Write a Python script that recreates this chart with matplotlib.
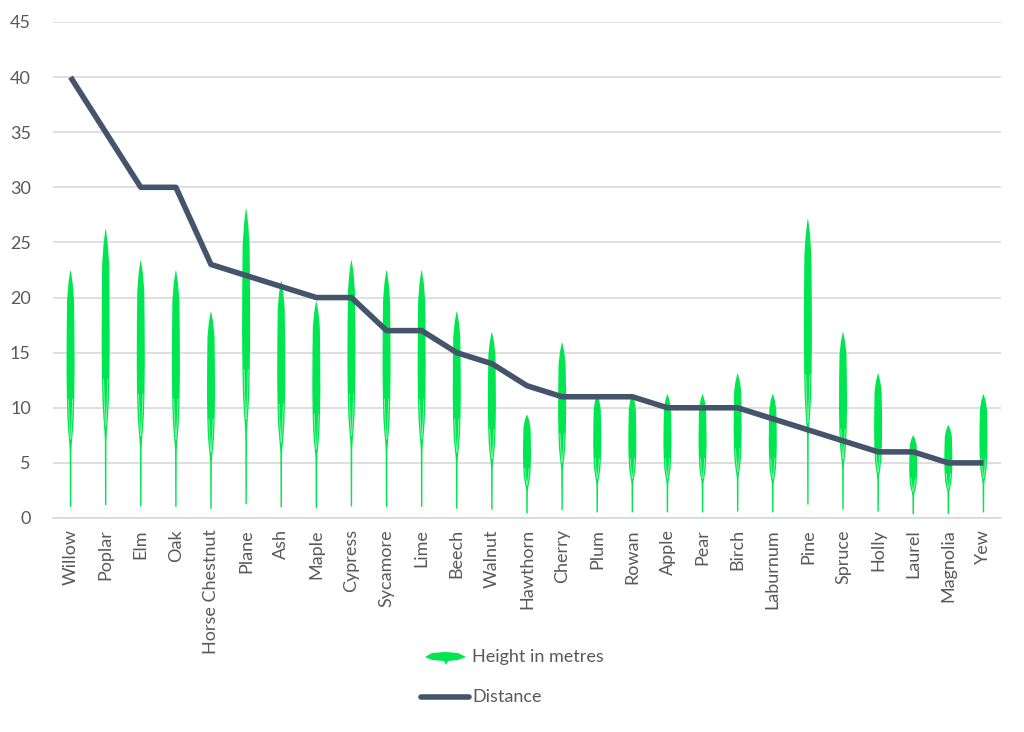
import numpy as np
import matplotlib
matplotlib.use('Agg')
import matplotlib.pyplot as plt
from matplotlib.lines import Line2D
from matplotlib.patches import Polygon

plt.rcParams['font.family'] = ['Lato', 'DejaVu Sans']

trees = ['Willow', 'Poplar', 'Elm', 'Oak', 'Horse Chestnut', 'Plane', 'Ash',
         'Maple', 'Cypress', 'Sycamore', 'Lime', 'Beech', 'Walnut', 'Hawthorn',
         'Cherry', 'Plum', 'Rowan', 'Apple', 'Pear', 'Birch', 'Laburnum',
         'Pine', 'Spruce', 'Holly', 'Laurel', 'Magnolia', 'Yew']
height = [24, 28, 25, 24, 20, 30, 23, 21, 25, 24, 24, 20, 18, 10, 17, 12,
          12, 12, 12, 14, 12, 29, 18, 14, 8, 9, 12]
distance = [40, 35, 30, 30, 23, 22, 21, 20, 20, 17, 17, 15, 14, 12, 11, 11,
            11, 10, 10, 10, 9, 8, 7, 6, 6, 5, 5]

green = '#00E650'
navy = '#44546A'
grey = '#595959'

fig = plt.figure(figsize=(10.24, 7.32), dpi=100)
ax = fig.add_axes([53/1024, 1-518/732, 948/1024, 496/732])

# leaf-like picture fill: fraction of height vs half width (in category units)
img_frac = 0.935
t = np.array([0.045, 0.27, 0.30, 0.34, 0.40, 0.48, 0.60, 0.75, 0.88, 0.95, 1.0])
w = np.array([0.02, 0.024, 0.035, 0.06, 0.09, 0.105, 0.115, 0.11, 0.10, 0.06, 0.008])

for i, h in enumerate(height):
    yy = t * img_frac * h
    xs = np.concatenate([i - w, (i + w)[::-1]])
    ys = np.concatenate([yy, yy[::-1]])
    ax.fill(xs, ys, color=green, lw=0, zorder=2)
    # faint veins in the lower part of the leaf
    for k in (-1, 1):
        vy = np.array([0.32, 0.40, 0.48]) * img_frac * h
        vx = i + k * np.array([0.005, 0.04, 0.06])
        ax.plot(vx, vy, color='#B5F7CB', lw=0.6, alpha=0.8, zorder=3)

x = np.arange(len(trees))
ax.plot(x, distance, color=navy, lw=4, solid_capstyle='butt', zorder=4)

ax.set_xlim(-0.5, len(trees) - 0.5)
ax.set_ylim(0, 45)
ax.set_yticks(np.arange(0, 46, 5))
ax.set_xticks(x)
ax.set_xticklabels(trees, rotation=90)
ax.yaxis.grid(True, color='#D9D9D9', lw=1.2)
ax.set_axisbelow(True)
for s in ['top', 'right', 'left']:
    ax.spines[s].set_visible(False)
ax.spines['bottom'].set_color('#D9D9D9')
ax.spines['bottom'].set_linewidth(1.2)
ax.tick_params(axis='both', length=0, colors=grey, labelsize=13)
ax.tick_params(axis='y', pad=16)
ax.tick_params(axis='x', pad=8)

# legend
leaf = np.array([[425, 657], [432, 653], [445, 652], [458, 653], [466, 657],
                 [458, 660], [448, 661], [446, 665], [444, 661], [432, 660]])
leaf_fig = np.column_stack([leaf[:, 0] / 1024, 1 - leaf[:, 1] / 732])
fig.patches.append(Polygon(leaf_fig, closed=True, color=green, lw=0,
                           transform=fig.transFigure))
fig.text(472/1024, 1 - 657/732, 'Height in metres', color=grey, fontsize=13,
         va='center', ha='left')
fig.lines.append(Line2D([421/1024, 469/1024], [1 - 697/732, 1 - 697/732],
                        color=navy, lw=4, solid_capstyle='round',
                        transform=fig.transFigure))
fig.text(472/1024, 1 - 697/732, 'Distance', color=grey, fontsize=13,
         va='center', ha='left')

fig.savefig('out.png', dpi=100)
